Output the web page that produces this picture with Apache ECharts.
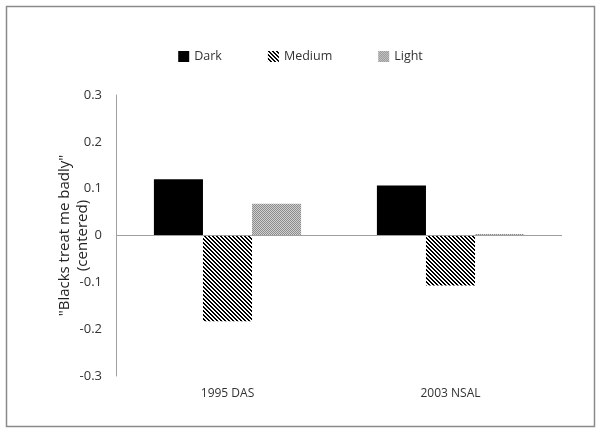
<!DOCTYPE html>
<html><head><meta charset="utf-8">
<script src="https://cdn.jsdelivr.net/npm/echarts@6/dist/echarts.min.js"></script>
<style>html,body{margin:0;padding:0;background:#fff}#c{width:601px;height:432px}</style>
</head><body><div id="c"></div>
<script>
const categories = ["1995 DAS", "2003 NSAL"];
const darkValues = [0.12, 0.107];
const mediumValues = [-0.183, -0.107];
const lightValues = [0.068, 0.003];
const seriesNames = ["Dark", "Medium", "Light"];
const yTicks = { min: -0.3, max: 0.3, interval: 0.1 };

function stripeCanvas() {
  const c = document.createElement('canvas');
  c.width = 4; c.height = 4;
  const ctx = c.getContext('2d');
  ctx.fillStyle = '#fff'; ctx.fillRect(0,0,4,4);
  ctx.fillStyle = '#000';
  for (let y = 0; y < 4; y++) {
    for (let k = 0; k < 2; k++) {
      const x = (y + k) % 4;
      ctx.fillRect(x, y, 1, 1);
    }
  }
  return c;
}
function dotCanvas() {
  const c = document.createElement('canvas');
  c.width = 2; c.height = 2;
  const ctx = c.getContext('2d');
  ctx.fillStyle = '#d0d0d0'; ctx.fillRect(0,0,2,2);
  ctx.fillStyle = '#8c8c8c';
  ctx.fillRect(0,0,1,1); ctx.fillRect(1,1,1,1);
  return c;
}
const stripe = { image: stripeCanvas(), repeat: 'repeat' };
const dots = { image: dotCanvas(), repeat: 'repeat' };

const chart = echarts.init(document.getElementById('c'), null, { renderer: 'canvas' });
const font = '"Open Sans", Lato, sans-serif';
chart.setOption({
  animation: false,
  backgroundColor: '#fff',
  graphic: [{
    type: 'rect', shape: { x: 6.5, y: 6.5, width: 588, height: 420 },
    style: { fill: 'none', stroke: '#8a8a8a', lineWidth: 1.5 }, silent: true, z: -1
  }],
  legend: {
    top: 45, left: 'center', itemGap: 46, itemWidth: 11, itemHeight: 11,
    textStyle: { fontFamily: font, fontSize: 12.5, color: '#333' },
    data: seriesNames.map(n => ({ name: n, icon: 'rect' }))
  },
  grid: { left: 116, right: 39, top: 95, bottom: 56, containLabel: false, outerBoundsMode: 'none' },
  xAxis: {
    type: 'category', data: categories,
    axisLine: { show: false, onZero: false }, axisTick: { show: false },
    axisLabel: { fontFamily: font, fontSize: 12, color: '#333', margin: 12 }
  },
  yAxis: {
    type: 'value', min: yTicks.min, max: yTicks.max, interval: yTicks.interval,
    splitLine: { show: false },
    axisLine: { show: true, lineStyle: { color: '#a0a0a0' } },
    axisTick: { show: false },
    axisLabel: { fontFamily: font, fontSize: 13, color: '#333', margin: 14,
      formatter: v => (Math.abs(v) < 1e-9 ? '0' : (Math.round(v * 10) / 10).toString()) },
    name: '"Blacks treat me badly"\n(centered)',
    nameLocation: 'middle', nameGap: 24, nameRotate: 90, nameMoveOverlap: false,
    nameTextStyle: { fontFamily: font, fontSize: 15, color: '#222', lineHeight: 18 }
  },
  series: [
    { name: seriesNames[0], type: 'bar', data: darkValues, barGap: '0%', barCategoryGap: '34%',
      itemStyle: { color: '#000' }, markLine: {
        silent: true, symbol: 'none', label: { show: false },
        lineStyle: { color: '#a0a0a0', type: 'solid', width: 1 }, data: [{ yAxis: 0 }] } },
    { name: seriesNames[1], type: 'bar', data: mediumValues, barGap: '0%', barCategoryGap: '34%',
      itemStyle: { color: stripe } },
    { name: seriesNames[2], type: 'bar', data: lightValues, barGap: '0%', barCategoryGap: '34%',
      itemStyle: { color: dots } }
  ]
});
</script></body></html>
